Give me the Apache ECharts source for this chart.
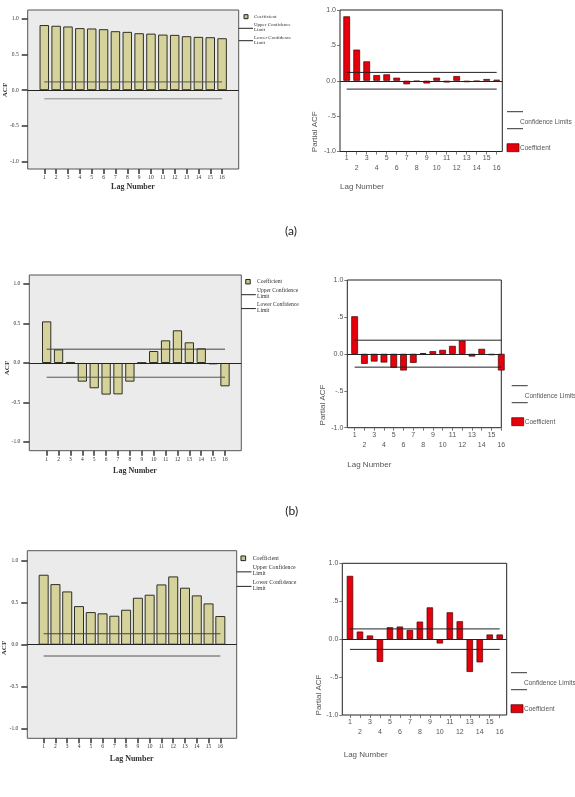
<!DOCTYPE html>
<html lang="en">
<head>
<meta charset="UTF-8">
<title>ACF / PACF</title>
<script src="https://cdn.jsdelivr.net/npm/echarts@6/dist/echarts.min.js"></script>
<style>html,body{margin:0;padding:0;background:#fff;}</style>
</head>
<body>
<div id="main" style="width:575px;height:797px;"></div>
<script>
// lag numbers and coefficients
var lags = [1, 2, 3, 4, 5, 6, 7, 8, 9, 10, 11, 12, 13, 14, 15, 16];

var acfA  = [0.91, 0.90, 0.89, 0.867, 0.862, 0.852, 0.824, 0.815, 0.796, 0.79, 0.777, 0.773, 0.754, 0.745, 0.74, 0.726];
var pacfA = [0.91, 0.44, 0.274, 0.08, 0.09, 0.043, -0.05, -0.01, -0.038, 0.043, -0.024, 0.066, -0.02, -0.01, 0.024, 0.014];

var acfB  = [0.527, 0.173, 0.013, -0.236, -0.32, -0.40, -0.397, -0.236, 0.005, 0.152, 0.287, 0.414, 0.262, 0.186, -0.017, -0.295];
var pacfB = [0.509, -0.135, -0.104, -0.117, -0.19, -0.225, -0.122, 0.01, 0.036, 0.054, 0.108, 0.18, -0.036, 0.068, -0.018, -0.225];

var acfC  = [0.83, 0.719, 0.632, 0.458, 0.387, 0.372, 0.344, 0.415, 0.557, 0.593, 0.715, 0.81, 0.676, 0.585, 0.49, 0.34];
var pacfC = [0.834, 0.10, 0.048, -0.30, 0.157, 0.166, 0.122, 0.231, 0.419, -0.057, 0.354, 0.236, -0.432, -0.306, 0.061, 0.061];

// [upper, lower] confidence limits
var acfLimA  = [0.116, -0.12];
var pacfLimA = [0.118, -0.118];
var acfLimB  = [0.175, -0.18];
var pacfLimB = [0.185, -0.18];
var acfLimC  = [0.13, -0.134];
var pacfLimC = [0.135, -0.135];

var yTicks = [-1, -0.5, 0, 0.5, 1];

var serif = '"Liberation Serif", "DejaVu Serif", serif';
var sans = '"Liberation Sans", Arial, sans-serif';

// layout of each little chart (left = SPSS ACF style, right = PACF style)
var panels = [
    {kind: 'acf',  values: acfA,  lim: acfLimA,  left: 27.7,  top: 10,    width: 211,   height: 159,   xMin: -0.4,  xMax: 17.4,  yMin: -1.1,  yMax: 1.12,  barWidth: 9.5, upColor: '#555', lowColor: '#8a8a8a'},
    {kind: 'pacf', values: pacfA, lim: pacfLimA, left: 340,   top: 10,    width: 162.3, height: 141.5, xMin: 0.33,  xMax: 16.56, yMin: -1,    yMax: 1,     barWidth: 6.7},
    {kind: 'acf',  values: acfB,  lim: acfLimB,  left: 29.3,  top: 275,   width: 212,   height: 175.7, xMin: -0.46, xMax: 17.37, yMin: -1.11, yMax: 1.114, barWidth: 9.3, upColor: '#444', lowColor: '#555'},
    {kind: 'pacf', values: pacfB, lim: pacfLimB, left: 347.3, top: 280,   width: 154,   height: 147.7, xMin: 0.25,  xMax: 16.0,  yMin: -1,    yMax: 1,     barWidth: 6.7},
    {kind: 'acf',  values: acfC,  lim: acfLimC,  left: 27.3,  top: 550.7, width: 209.4, height: 187.6, xMin: -0.39, xMax: 17.39, yMin: -1.11, yMax: 1.115, barWidth: 10,  upColor: '#444', lowColor: '#555'},
    {kind: 'pacf', values: pacfC, lim: pacfLimC, left: 342.3, top: 563.3, width: 164.4, height: 151.7, xMin: 0.23,  xMax: 16.7,  yMin: -1,    yMax: 1,     barWidth: 6.4}
];

function rightYLabel(v) {
    if (v === 0) return '0.0';
    if (Math.abs(v) === 1) return v.toFixed(1);
    return (v < 0 ? '-' : '') + '.5';
}

var grids = [], xAxes = [], yAxes = [], series = [];

panels.forEach(function (p, i) {
    var isAcf = p.kind === 'acf';
    grids.push({
        left: p.left, top: p.top, width: p.width, height: p.height,
        show: true,
        backgroundColor: isAcf ? '#ebebeb' : '#fff',
        borderColor: isAcf ? '#555' : '#222',
        borderWidth: 1
    });
    xAxes.push({
        type: 'value', gridIndex: i, min: p.xMin, max: p.xMax, position: 'bottom',
        axisLine: {show: false, onZero: false},
        splitLine: {show: false},
        axisTick: {
            show: true, customValues: lags, length: isAcf ? 5 : 3,
            lineStyle: {color: isAcf ? '#333' : '#555', width: isAcf ? 1.5 : 0.8}
        },
        axisLabel: isAcf ? {
            customValues: lags, margin: 5.5, fontSize: 5.5, lineHeight: 6,
            fontFamily: serif, color: '#333'
        } : {
            customValues: lags, margin: 2, fontSize: 7, lineHeight: 10,
            fontFamily: sans, color: '#555',
            formatter: function (v) { return v % 2 ? String(v) : '\n' + v; }
        }
    });
    yAxes.push({
        type: 'value', gridIndex: i, min: p.yMin, max: p.yMax, position: 'left',
        axisLine: {show: false, onZero: false},
        splitLine: {show: false},
        axisTick: {
            show: true, customValues: yTicks, length: isAcf ? 6 : 3,
            lineStyle: {color: isAcf ? '#333' : '#555', width: isAcf ? 1.5 : 0.8}
        },
        axisLabel: isAcf ? {
            customValues: yTicks, margin: 9, fontSize: 5.5,
            fontFamily: serif, color: '#333',
            formatter: function (v) { return v.toFixed(1); }
        } : {
            customValues: yTicks, margin: 4, fontSize: 7,
            fontFamily: sans, color: '#555',
            formatter: rightYLabel
        }
    });

    series.push({
        type: 'bar', xAxisIndex: i, yAxisIndex: i,
        data: lags.map(function (l, k) { return [l, p.values[k]]; }),
        barWidth: p.barWidth,
        clip: false,
        itemStyle: isAcf
            ? {color: '#d6d29c', borderColor: '#2f2f25', borderWidth: 1}
            : {color: '#e6000c', borderColor: '#4a0000', borderWidth: 0.7},
        markLine: {
            silent: true, symbol: ['none', 'none'], label: {show: false},
            lineStyle: {color: '#222', width: 1, type: 'solid'},
            data: [{yAxis: 0}]
        }
    });
    series.push({
        type: 'line', xAxisIndex: i, yAxisIndex: i, symbol: 'none',
        data: [[lags[0], p.lim[0]], [lags[lags.length - 1], p.lim[0]]],
        lineStyle: {color: isAcf ? p.upColor : '#222', width: 1}
    });
    series.push({
        type: 'line', xAxisIndex: i, yAxisIndex: i, symbol: 'none',
        data: [[lags[0], p.lim[1]], [lags[lags.length - 1], p.lim[1]]],
        lineStyle: {color: isAcf ? p.lowColor : '#222', width: 1}
    });
});

// ---- texts and legends drawn as graphics ----
var graphics = [];

function txt(x, y, s, font, fill, align, rot) {
    graphics.push({
        type: 'text', x: x, y: y, rotation: rot || 0,
        style: {text: s, font: font, fill: fill, textAlign: align || 'left', textVerticalAlign: 'middle'}
    });
}

function leftLegend(x0, sx, sy, s) {
    var f = (5 * s).toFixed(2) + 'px ' + serif;
    graphics.push({type: 'rect', shape: {x: sx - 2 * s, y: sy - 2 * s, width: 4 * s, height: 4 * s},
        style: {fill: '#c9c58c', stroke: '#222', lineWidth: 1}});
    txt(sx + 8 * s, sy, 'Coefficient', f, '#333');
    graphics.push({type: 'line', shape: {x1: x0, y1: sy + 11.6 * s, x2: sx + 7 * s, y2: sy + 11.6 * s},
        style: {stroke: '#222', lineWidth: 1}});
    txt(sx + 8 * s, sy + 8 * s, 'Upper Confidence', f, '#333');
    txt(sx + 8 * s, sy + 13 * s, 'Limit', f, '#333');
    graphics.push({type: 'line', shape: {x1: x0, y1: sy + 24 * s, x2: sx + 7 * s, y2: sy + 24 * s},
        style: {stroke: '#222', lineWidth: 1}});
    txt(sx + 8 * s, sy + 20.6 * s, 'Lower Confidence', f, '#333');
    txt(sx + 8 * s, sy + 25.6 * s, 'Limit', f, '#333');
}

function rightLegend(lx, ly) {
    var f = '6.5px ' + sans;
    graphics.push({type: 'line', shape: {x1: lx, y1: ly, x2: lx + 16, y2: ly}, style: {stroke: '#333', lineWidth: 1}});
    txt(lx + 13, ly + 10.5, 'Confidence Limits', f, '#555');
    graphics.push({type: 'line', shape: {x1: lx, y1: ly + 17, x2: lx + 16, y2: ly + 17}, style: {stroke: '#333', lineWidth: 1}});
    graphics.push({type: 'rect', shape: {x: lx, y: ly + 32, width: 12, height: 8},
        style: {fill: '#e6000c', stroke: '#4a0000', lineWidth: 0.7}});
    txt(lx + 13, ly + 36.5, 'Coefficient', f, '#555');
}

var boldSerif = 'bold 8px ' + serif;
var acfFont = 'bold 7px ' + serif;
var pacfFont = '8px ' + sans;
var lagFont = '8px ' + sans;
var capFont = '12px Lato, "Open Sans", sans-serif';

// (a)
txt(5, 90, 'ACF', acfFont, '#333', 'center', Math.PI / 2);
txt(133, 187, 'Lag Number', boldSerif, '#333', 'center');
leftLegend(238.7, 246, 16.7, 1);
txt(315, 131.7, 'Partial ACF', pacfFont, '#555', 'center', Math.PI / 2);
txt(362, 187, 'Lag Number', lagFont, '#555', 'center');
rightLegend(507, 111.7);
txt(291, 231, '(a)', capFont, '#222', 'center');

// (b)
txt(6.7, 368, 'ACF', acfFont, '#333', 'center', Math.PI / 2);
txt(135, 470.7, 'Lag Number', boldSerif, '#333', 'center');
leftLegend(241.3, 248, 281.7, 1.12);
txt(322.3, 405, 'Partial ACF', pacfFont, '#555', 'center', Math.PI / 2);
txt(369.3, 465, 'Lag Number', lagFont, '#555', 'center');
rightLegend(511.7, 385.7);
txt(291.7, 510.7, '(b)', capFont, '#222', 'center');

// (c)
txt(4.3, 648, 'ACF', acfFont, '#333', 'center', Math.PI / 2);
txt(131.7, 759, 'Lag Number', boldSerif, '#333', 'center');
leftLegend(236.7, 243.3, 558.3, 1.17);
txt(318.3, 695, 'Partial ACF', pacfFont, '#555', 'center', Math.PI / 2);
txt(365.7, 755, 'Lag Number', lagFont, '#555', 'center');
rightLegend(511, 672.7);
txt(290, 802, '(c)', capFont, '#222', 'center');

var myChart = echarts.init(document.getElementById('main'));
myChart.setOption({
    animation: false,
    backgroundColor: '#fff',
    grid: grids,
    xAxis: xAxes,
    yAxis: yAxes,
    series: series,
    graphic: {elements: graphics}
});
</script>
</body>
</html>
